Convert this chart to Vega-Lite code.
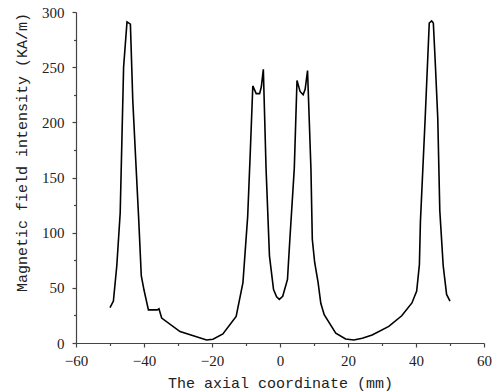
{
  "$schema": "https://vega.github.io/schema/vega-lite/v6.json",
  "width": 408,
  "height": 331,
  "autosize": {"type": "none"},
  "padding": {"left": 76, "top": 12, "right": 8, "bottom": 48},
  "background": "white",
  "config": {"view": {"stroke": null}},
  "data": {"values": [
    {"x": -50, "y": 32}, {"x": -49, "y": 38}, {"x": -48, "y": 70}, {"x": -47, "y": 118},
    {"x": -46, "y": 250}, {"x": -45, "y": 291}, {"x": -44, "y": 289}, {"x": -43.3, "y": 220},
    {"x": -42.5, "y": 170}, {"x": -41.6, "y": 115}, {"x": -40.8, "y": 61}, {"x": -40, "y": 48},
    {"x": -38.7, "y": 30}, {"x": -36.1, "y": 30}, {"x": -35.6, "y": 31}, {"x": -34.8, "y": 22.6},
    {"x": -29.4, "y": 10.4}, {"x": -21.6, "y": 2.7}, {"x": -19.7, "y": 3.4}, {"x": -16.8, "y": 8.2},
    {"x": -12.9, "y": 24}, {"x": -10.9, "y": 54.6}, {"x": -9.5, "y": 115}, {"x": -8.7, "y": 176},
    {"x": -8, "y": 233}, {"x": -7, "y": 226}, {"x": -6, "y": 226}, {"x": -5.5, "y": 232},
    {"x": -4.9, "y": 248}, {"x": -4.1, "y": 158}, {"x": -3.1, "y": 79}, {"x": -1.9, "y": 48.5},
    {"x": -1, "y": 41.8}, {"x": -0.2, "y": 39.5}, {"x": 0.8, "y": 42.4}, {"x": 2.2, "y": 57.6},
    {"x": 2.9, "y": 94}, {"x": 4.2, "y": 158}, {"x": 5, "y": 238}, {"x": 5.9, "y": 228},
    {"x": 6.8, "y": 225}, {"x": 7.4, "y": 230}, {"x": 8.1, "y": 247}, {"x": 9.1, "y": 158},
    {"x": 9.5, "y": 94}, {"x": 10.2, "y": 73}, {"x": 11.2, "y": 55}, {"x": 12, "y": 36},
    {"x": 13, "y": 25.6}, {"x": 16.4, "y": 9}, {"x": 19.3, "y": 3.7}, {"x": 21.7, "y": 2.7},
    {"x": 24.2, "y": 4.3}, {"x": 27.1, "y": 7.3}, {"x": 32, "y": 15}, {"x": 35.8, "y": 24.7},
    {"x": 38.8, "y": 36.3}, {"x": 40.2, "y": 47}, {"x": 41, "y": 71}, {"x": 41.3, "y": 110},
    {"x": 42.7, "y": 204}, {"x": 43.9, "y": 290}, {"x": 44.6, "y": 292}, {"x": 45.1, "y": 290},
    {"x": 45.7, "y": 252}, {"x": 46.4, "y": 204}, {"x": 47, "y": 120}, {"x": 48, "y": 70},
    {"x": 49, "y": 44}, {"x": 50, "y": 38}
  ]},
  "layer": [
    {
      "mark": {"type": "line", "color": "black", "strokeWidth": 1.6, "strokeJoin": "miter"},
      "encoding": {
        "x": {"field": "x", "type": "quantitative",
          "scale": {"domain": [-60, 60], "nice": false, "zero": false},
          "axis": {"orient": "bottom", "values": [-60, -40, -20, 0, 20, 40, 60], "grid": false,
            "domainColor": "#444", "domainWidth": 1.2, "tickColor": "#444", "tickSize": 4, "tickWidth": 1.2,
            "labelFont": "Liberation Serif, serif", "labelFontSize": 15, "labelColor": "#222", "labelPadding": 6,
            "labelFlush": false,
            "title": "The axial coordinate (mm)", "titleFont": "Liberation Mono, monospace", "titleFontSize": 15,
            "titleFontWeight": "normal", "titleColor": "#222", "titleBaseline": "middle", "titleY": 39}},
        "y": {"field": "y", "type": "quantitative",
          "scale": {"domain": [0, 300], "nice": false},
          "axis": {"orient": "left", "values": [0, 50, 100, 150, 200, 250, 300], "grid": false,
            "domainColor": "#444", "domainWidth": 1.2, "tickColor": "#444", "tickSize": 4, "tickWidth": 1.2,
            "labelFont": "Liberation Serif, serif", "labelFontSize": 15, "labelColor": "#222", "labelPadding": 8,
            "labelFlush": false,
            "title": "Magnetic field intensity (KA/m)", "titleFont": "Liberation Mono, monospace", "titleFontSize": 15,
            "titleFontWeight": "normal", "titleColor": "#222", "titleBaseline": "middle",
            "titleAngle": -90, "titleX": -55, "titleY": 140}}
      }
    },
    {
      "mark": {"type": "point", "opacity": 0},
      "encoding": {
        "x": {"field": "x", "type": "quantitative",
          "scale": {"domain": [-60, 60], "nice": false, "zero": false},
          "axis": {"orient": "bottom", "values": [-50, -30, -10, 10, 30, 50], "grid": false,
            "domain": false, "labels": false, "title": null,
            "tickColor": "#444", "tickSize": 2.5, "tickWidth": 1.2}},
        "y": {"field": "y", "type": "quantitative",
          "scale": {"domain": [0, 300], "nice": false},
          "axis": {"orient": "left", "values": [25, 75, 125, 175, 225, 275], "grid": false,
            "domain": false, "labels": false, "title": null,
            "tickColor": "#444", "tickSize": 2.5, "tickWidth": 1.2}}
      }
    }
  ],
  "resolve": {"axis": {"x": "independent", "y": "independent"}}
}
